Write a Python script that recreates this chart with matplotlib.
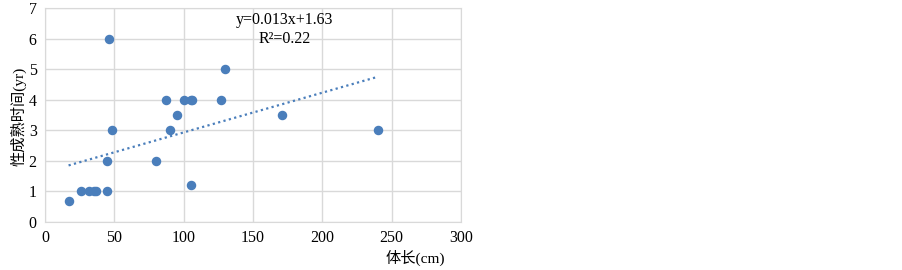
import matplotlib
matplotlib.use("Agg")
import matplotlib.pyplot as plt
import numpy as np

plt.rcParams['font.family'] = ['Liberation Serif', 'Noto Sans CJK SC']

# body length (cm) and age at maturity (yr)
length = [17, 26, 32, 35, 37, 45, 45, 46, 48, 80, 87, 90, 95, 100, 105, 106,
          105, 127, 130, 171, 240]
maturity = [0.7, 1, 1, 1, 1, 1, 2, 6, 3, 2, 4, 3, 3.5, 4, 4, 4,
            1.2, 4, 5, 3.5, 3]
slope, intercept = 0.013, 1.63
r2 = 0.22

x = np.array(length)
y = np.array(maturity)
color = '#4a7ebb'

fig = plt.figure(figsize=(9.03, 2.7), dpi=100)
ax = fig.add_axes([45 / 903, 48 / 270, 416 / 903, 214 / 270])

ax.scatter(x, y, s=34, color=color, zorder=3)

xt = np.array([x.min(), x.max()])
ax.plot(xt, slope * xt + intercept, linestyle=(0, (1, 1.5)), color=color, lw=1.6, zorder=2)

ax.text(173, 6.6, f"y={slope}x+{intercept}", ha='center', va='center', fontsize=11.5)
ax.text(173, 5.98, f"R²={r2}", ha='center', va='center', fontsize=11.5)

ax.set_xlim(0, 300)
ax.set_ylim(0, 7)
ax.set_xticks(range(0, 301, 50))
ax.set_yticks(range(0, 8))
ax.grid(True, color='#d9d9d9', lw=1)
ax.set_axisbelow(True)
for s in ax.spines.values():
    s.set_color('#d9d9d9')
ax.tick_params(length=0, labelsize=11.5, pad=6)

fig.text(18 / 903, 154 / 270, "性成熟时间(yr)", rotation=90, ha='center', va='center', fontsize=11)
fig.text(415 / 903, 12 / 270, "体长(cm)", ha='center', va='center', fontsize=11)

fig.savefig('out.png', dpi=100)
